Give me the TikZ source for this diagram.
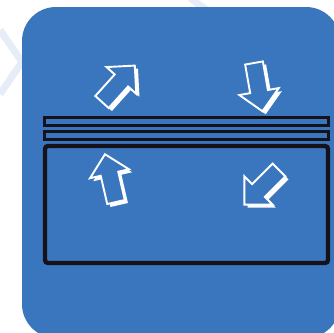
\documentclass[tikz,border=0pt]{standalone}
\usepackage{tikz}
\usepackage{xcolor}
\usetikzlibrary{calc}
\definecolor{cPanel}{RGB}{58,118,189}
\definecolor{cFrame}{RGB}{22,18,28}
\definecolor{cMark}{RGB}{230,237,246}
\tikzset{
	panel/.style   ={fill=cPanel, rounded corners=34pt},
	glass/.style   ={draw=cFrame, line width=3pt, fill=cPanel},
	room/.style    ={draw=cFrame, line width=4.4pt, rounded corners=3pt},
	flowline/.style={draw=white, line width=1.9pt, fill=cPanel, line join=miter},
	flowside/.style={fill=white},
	wmark/.style   ={draw=cMark, line width=7pt},
}
% hollow block arrow: tail centre x, y, angle
\newcommand{\heatarrow}[3]{%
	\begin{scope}[shift={(#1+3.2,#2+3)}, rotate=#3]
		\path[flowside] (0,-9) -- (29,-9) -- (29,-20) -- (49,0) -- (29,20) -- (29,9) -- (0,9) -- cycle;
	\end{scope}
	\begin{scope}[shift={(#1,#2)}, rotate=#3]
		\path[flowline] (0,-9) -- (29,-9) -- (29,-20) -- (49,0) -- (29,20) -- (29,9) -- (0,9) -- cycle;
	\end{scope}}

\begin{document}
\begin{tikzpicture}[x=1pt, y=-1pt]
	\useasboundingbox (0,0) rectangle (334,332);
	\fill[white] (0,0) rectangle (334,332);
	% faint marks behind the panel
	\draw[wmark] (0,30) -- (22,62) -- (0,94);
	\draw[wmark] (190,-2) -- (212,14);
	\path[panel] (22,7) rectangle (340,338);
	% panes and box
	\path[glass] (44,117) rectangle (328,125);
	\path[glass] (44,131) rectangle (328,139);
	\path[room] (45,146) rectangle (328,263);
	% flows
	\heatarrow{102}{102}{48}
	\heatarrow{254}{63}{-80}
	\heatarrow{116}{202}{103}
	\heatarrow{279}{170}{225}
\end{tikzpicture}
\end{document}
